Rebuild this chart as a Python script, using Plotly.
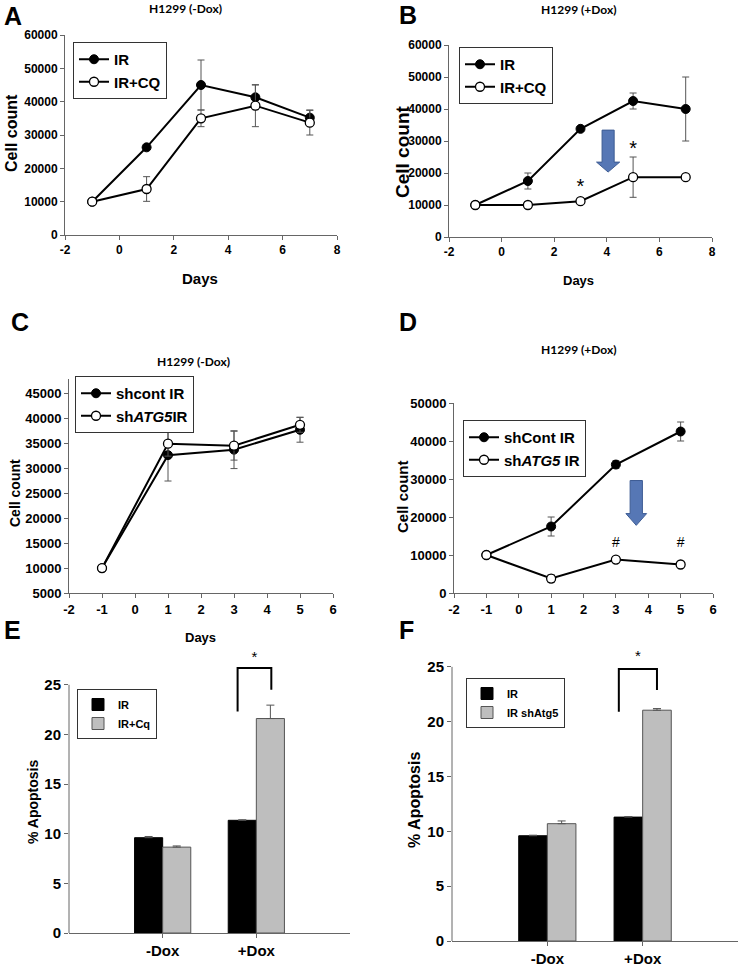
import plotly.graph_objects as go

W, H = 740, 971

# ---- data: panels A/B (CQ treatment) ----
days_ab = [-1, 1, 3, 5, 7]
a_ir = [10000, 26300, 45000, 41300, 35200]
a_ir_err = [0, 600, 7500, 3700, 2300]
a_cq = [10000, 13800, 35000, 38800, 33700]
a_cq_err = [0, 3700, 2500, 6300, 3700]

b_ir = [10000, 17500, 33800, 42500, 40000]
b_ir_err = [0, 2500, 600, 2500, 10000]
b_cq = [10000, 10000, 11200, 18700, 18700]
b_cq_err = [0, 300, 500, 6300, 500]
b_star_x = [3, 5]
b_star_y = [15300, 27200]

# ---- data: panels C/D (shATG5) ----
days_cd = [-1, 1, 3, 5]
c_ctl = [10000, 32700, 33800, 37800]
c_ctl_err = [0, 5200, 3800, 2500]
c_atg5 = [10000, 35000, 34600, 38800]
c_atg5_err = [0, 2500, 2900, 1500]

d_ctl = [10000, 17500, 33800, 42500]
d_ctl_err = [0, 2500, 1000, 2500]
d_atg5 = [10000, 3800, 8800, 7500]
d_atg5_err = [0, 1000, 800, 300]
d_hash_x = [3, 5]
d_hash_y = [13000, 13000]

# ---- data: panels E/F (apoptosis) ----
conditions = ["-Dox", "+Dox"]
cond_pos = [0, 1]
e_ir = [9.6, 11.35]
e_ir_err = [0.12, 0.05]
e_cq = [8.65, 21.6]
e_cq_err = [0.12, 1.35]
f_ir = [9.6, 11.3]
f_ir_err = [0.05, 0.05]
f_atg5 = [10.7, 21.05]
f_atg5_err = [0.25, 0.15]

# tick labels (hyphen minus like the original)
ab_xticks = [-2, 0, 2, 4, 6, 8]
cd_xticks = [-2, -1, 0, 1, 2, 3, 4, 5, 6]
pct_ticks = [0, 5, 10, 15, 20, 25]

# significance brackets: x left/right, top, left leg end, right leg end, star y
e_bracket = dict(x=[0.80, 1.16], top=26.7, left=22.3, right=24.5, star=27.7)
f_bracket = dict(x=[0.75, 1.15], top=24.8, left=20.9, right=22.9, star=25.9)

# block arrows: center x, top, head start, tip, half widths (data units)
b_arrow = dict(x=4.05, top=33400, head=23400, tip=20300, hw=0.44, sw=0.23)
d_arrow = dict(x=3.63, top=29600, head=20900, tip=17800, hw=0.32, sw=0.19)

ARIAL = "Liberation Sans, Arial, sans-serif"
NARROW = "Liberation Sans Narrow, Arial Narrow, Liberation Sans, sans-serif"
CALIBRI = "Lato, Carlito, Calibri, sans-serif"
AXC = "#666666"


def px(x):
    return x / W


def py(y):
    return 1 - y / H


def axis(dom, rng, font, anchor, dtick=None, tickvals=None, showline=True):
    d = dict(domain=dom, range=rng, anchor=anchor, showgrid=False, zeroline=False,
             showline=showline, linecolor=AXC, linewidth=1,
             ticks="outside", ticklen=4, tickcolor=AXC, tickformat="d",
             tickfont=font, fixedrange=True)
    if dtick is not None:
        d["dtick"] = dtick
        d["tick0"] = rng[0]
    if tickvals is not None:
        d["tickmode"] = "array"
        d["tickvals"] = tickvals
        d["ticktext"] = [str(v) for v in tickvals]
    return d


def line_pair(x, y1, e1, y2, e2, names, xa, ya, leg):
    err = dict(color="#555555", thickness=1, width=3.5)
    t1 = go.Scatter(x=x, y=y1, name=names[0], mode="lines+markers",
                    xaxis=xa, yaxis=ya, legend=leg,
                    line=dict(color="black", width=2),
                    marker=dict(color="black", size=9, line=dict(color="black", width=1)),
                    error_y=dict(type="data", array=e1, **err))
    t2 = go.Scatter(x=x, y=y2, name=names[1], mode="lines+markers",
                    xaxis=xa, yaxis=ya, legend=leg,
                    line=dict(color="black", width=2),
                    marker=dict(color="white", size=9, line=dict(color="black", width=1.3)),
                    error_y=dict(type="data", array=e2, **err))
    return [t1, t2]


def bar_pair(y1, e1, y2, e2, names, xa, ya, leg):
    err = dict(color="#555555", thickness=1, width=4)
    t1 = go.Bar(x=cond_pos, y=y1, name=names[0], xaxis=xa, yaxis=ya, legend=leg,
                marker=dict(color="black", line=dict(color="black", width=1)),
                error_y=dict(type="data", array=e1, arrayminus=[0, 0], symmetric=False, **err))
    t2 = go.Bar(x=cond_pos, y=y2, name=names[1], xaxis=xa, yaxis=ya, legend=leg,
                marker=dict(color="#BEBEBE", line=dict(color="#555555", width=1)),
                error_y=dict(type="data", array=e2, arrayminus=[0, 0], symmetric=False, **err))
    return [t1, t2]


traces = []
traces += line_pair(days_ab, a_ir, a_ir_err, a_cq, a_cq_err, ["IR", "IR+CQ"], "x", "y", "legend")
traces += line_pair(days_ab, b_ir, b_ir_err, b_cq, b_cq_err, ["IR", "IR+CQ"], "x2", "y2", "legend2")
traces += line_pair(days_cd, c_ctl, c_ctl_err, c_atg5, c_atg5_err,
                    ["shcont IR", "sh<i>ATG5</i>IR"], "x3", "y3", "legend3")
traces += line_pair(days_cd, d_ctl, d_ctl_err, d_atg5, d_atg5_err,
                    ["shCont IR", "sh<i>ATG5</i> IR"], "x4", "y4", "legend4")
traces += bar_pair(e_ir, e_ir_err, e_cq, e_cq_err, ["IR", "IR+Cq"], "x5", "y5", "legend5")
traces += bar_pair(f_ir, f_ir_err, f_atg5, f_atg5_err, ["IR", "IR shAtg5"], "x6", "y6", "legend6")

# significance marks in B and D
traces.append(go.Scatter(x=b_star_x, y=b_star_y, mode="text", text=["*", "*"],
                         textfont=dict(family=ARIAL, size=20, color="black"),
                         xaxis="x2", yaxis="y2", showlegend=False, cliponaxis=False))
traces.append(go.Scatter(x=d_hash_x, y=d_hash_y, mode="text", text=["#", "#"],
                         textfont=dict(family=ARIAL, size=14, color="black"),
                         xaxis="x4", yaxis="y4", showlegend=False, cliponaxis=False))

# brackets in E and F
for br, xa, ya in [(e_bracket, "x5", "y5"), (f_bracket, "x6", "y6")]:
    traces.append(go.Scatter(x=[br["x"][0], br["x"][0], br["x"][1], br["x"][1]],
                             y=[br["left"], br["top"], br["top"], br["right"]],
                             mode="lines", line=dict(color="black", width=2),
                             xaxis=xa, yaxis=ya, showlegend=False))
    traces.append(go.Scatter(x=[sum(br["x"]) / 2], y=[br["star"]], mode="text", text=["*"],
                             textfont=dict(family=ARIAL, size=15, color="black"),
                             xaxis=xa, yaxis=ya, showlegend=False, cliponaxis=False))

fig = go.Figure(data=traces)

f12 = dict(family=ARIAL, size=12, color="black", weight="bold")
f13 = dict(family=ARIAL, size=13, color="black", weight="bold")
fn = dict(family=NARROW, size=15, color="black", weight="bold")

fig.update_layout(
    xaxis=axis([px(65), px(337)], [-2, 8], f12, "y", tickvals=ab_xticks),
    yaxis=axis([py(235), py(35)], [0, 60000], f12, "x", dtick=10000),
    xaxis2=axis([px(449), px(712)], [-2, 8], f12, "y2", tickvals=ab_xticks),
    yaxis2=axis([py(237), py(45)], [0, 60000], f12, "x2", dtick=10000),
    xaxis3=axis([px(69), px(333)], [-2, 6], f13, "y3", tickvals=cd_xticks),
    yaxis3=axis([py(593), py(379)], [5000, 48000], f13, "x3", dtick=5000),
    xaxis4=axis([px(454), px(713)], [-2, 6], f13, "y4", tickvals=cd_xticks),
    yaxis4=axis([py(593), py(403)], [0, 50000], f13, "x4", dtick=10000),
    xaxis5=axis([px(69), px(350)], [-1, 2], fn, "y5", tickvals=cond_pos),
    yaxis5=axis([py(933), py(655)], [0, 28], fn, "x5", tickvals=pct_ticks, showline=False),
    xaxis6=axis([px(452), px(738)], [-1, 2], fn, "y6", tickvals=cond_pos),
    yaxis6=axis([py(941), py(634)], [0, 28], fn, "x6", tickvals=pct_ticks, showline=False),
    barmode="group", bargap=0.4, bargroupgap=0,
    width=W, height=H, margin=dict(l=0, r=0, t=0, b=0, autoexpand=False),
    paper_bgcolor="white", plot_bgcolor="white",
    font=dict(family=ARIAL, color="black"),
)
fig.update_layout(xaxis5_ticktext=conditions, xaxis6_ticktext=conditions)


# per-panel legends
def legend(x0, y0, size, family=ARIAL, gap=2):
    return dict(x=px(x0), y=py(y0), xanchor="left", yanchor="top",
                bgcolor="white", bordercolor="#333333", borderwidth=1,
                font=dict(family=family, size=size, color="black", weight="bold"),
                tracegroupgap=gap)


fig.update_layout(
    legend=legend(73, 42, 15),
    legend2=legend(459, 47, 15),
    legend3=legend(75, 376, 15),
    legend4=legend(463, 420, 15),
    legend5=legend(77, 689, 11, NARROW),
    legend6=legend(466, 678, 11, NARROW),
)

# y axis lines for bar panels stop at 25
for xa, ya in [("x5", "y5"), ("x6", "y6")]:
    fig.add_shape(type="line", xref=f"{xa} domain", yref=ya, x0=0, x1=0, y0=0, y1=25,
                  line=dict(color=AXC, width=1))

# block arrows
for ar, xa, ya in [(b_arrow, "x2", "y2"), (d_arrow, "x4", "y4")]:
    x, sw, hw = ar["x"], ar["sw"], ar["hw"]
    path = (f"M {x - sw},{ar['top']} L {x + sw},{ar['top']} L {x + sw},{ar['head']} "
            f"L {x + hw},{ar['head']} L {x},{ar['tip']} L {x - hw},{ar['head']} "
            f"L {x - sw},{ar['head']} Z")
    fig.add_shape(type="path", path=path, xref=xa, yref=ya,
                  fillcolor="#5677B5", line=dict(color="#3D5C94", width=1))


def note(text, x, y, size, family=ARIAL, angle=0, xanchor="center"):
    fig.add_annotation(text=text, x=px(x), y=py(y), xref="paper", yref="paper",
                       showarrow=False, textangle=angle, xanchor=xanchor, yanchor="middle",
                       font=dict(family=family, size=size, color="black", weight="bold"))


# panel letters
for letter, x, y in [("A", 2, 16), ("B", 397, 15), ("C", 9, 322),
                     ("D", 397, 322), ("E", 2, 630), ("F", 397, 630)]:
    note(letter, x, y, 25, xanchor="left")

# panel titles
note("H1299 (-Dox)", 185, 8, 12, CALIBRI)
note("H1299 (+Dox)", 578, 9, 12, CALIBRI)
note("H1299 (-Dox)", 193, 361, 12, CALIBRI)
note("H1299 (+Dox)", 578, 349, 12, CALIBRI)

# axis titles
note("Cell count", 12, 133, 16, angle=-90)
note("Cell count", 403, 152, 19, angle=-90)
note("Cell count", 15, 493, 14, angle=-90)
note("Cell count", 402, 497, 15, angle=-90)
note("% Apoptosis", 33, 802, 14, angle=-90)
note("% Apoptosis", 414, 800, 16, angle=-90)
note("Days", 200, 278, 15)
note("Days", 578, 280, 13)
note("Days", 200, 637, 13)

# drop the default page margin so the figure sits at the window origin
fig.write_html("out.html", config={"displayModeBar": False},
               post_script="document.body.style.margin = '0px';")
